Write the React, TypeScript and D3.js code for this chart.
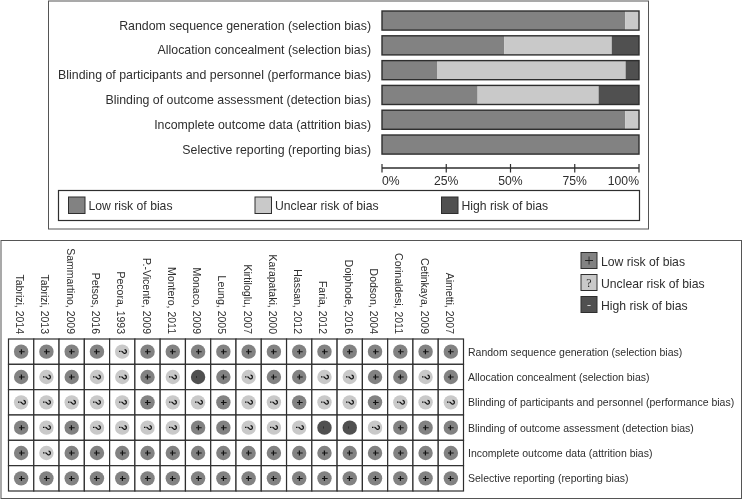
import React from 'react';
import * as d3 from 'd3';

// domains, same order in the summary bars and the table rows
const domains = [
  'Random sequence generation (selection bias)',
  'Allocation concealment (selection bias)',
  'Blinding of participants and personnel (performance bias)',
  'Blinding of outcome assessment (detection bias)',
  'Incomplete outcome data (attrition bias)',
  'Selective reporting (reporting bias)',
];

const riskKeys = ['low', 'unclear', 'high'];
const riskLabels = ['Low risk of bias', 'Unclear risk of bias', 'High risk of bias'];
const riskGlyphs = ['+', '?', '-'];

// percentages
const lowPct = [94.6, 47.6, 21.4, 37.2, 94.6, 100];
const unclearPct = [5.4, 41.8, 73.4, 47.1, 5.4, 0];
const highPct = [0, 10.6, 5.2, 15.7, 0, 0];

const pctTicks = [0, 25, 50, 75, 100];

const studies = [
  'Tabrizi, 2014', 'Tabrizi, 2013', 'Sammartino, 2009', 'Petsos, 2016', 'Pecora, 1993',
  'P.-Vicente, 2009', 'Montero, 2011', 'Monaco, 2009', 'Leung, 2005', 'Kirtiloglu, 2007',
  'Karapataki, 2000', 'Hassan, 2012', 'Faria, 2012', 'Doiphode, 2016', 'Dodson, 2004',
  'Corinaldesi, 2011', 'Cetinkaya, 2009', 'Aimetti, 2007',
];

// one string per domain, one character per study
const judgements = [
  '++++?+++++++++++++',
  '+?+??+?-+?++??++?+',
  '?????+??+??+??+???',
  '+?+????++???--?+++',
  '+?++++++++++++++++',
  '++++++++++++++++++',
];

const COLORS: Record<string, string> = { low: '#828282', unclear: '#c9c9c9', high: '#505050' };
const glyphRisk: Record<string, string> = { '+': 'low', '?': 'unclear', '-': 'high' };
const INK = '#2e2e2e';
const FONT = '"Liberation Sans", Arial, sans-serif';

const stack = d3.stack<any>().keys(riskKeys)(
  domains.map((d, i) => ({ domain: d, low: lowPct[i], unclear: unclearPct[i], high: highPct[i] })),
);

const App = () => {
  const x = d3.scaleLinear().domain([0, 100]).range([382, 639]);
  const y = d3.scaleBand().domain(domains).range([5.3, 159.8]).padding(0.23);

  const col = d3.scaleBand().domain(studies).range([8.5, 463.5]);
  const row = d3.scaleBand().domain(domains).range([339, 491]);

  return (
    <svg
      width={745}
      height={500}
      style={{ position: 'absolute', left: 0, top: 0, filter: 'blur(0.5px)' }}
      fontFamily={FONT}
    >
      <rect width={745} height={500} fill="#fff" />

      {/* ── Summary panel ── */}
      <rect x={48.5} y={1} width={600} height={228} fill="#fff" stroke="#555" />

      {domains.map((d) => (
        <text key={d} x={371} y={y(d)! + y.bandwidth() / 2 + 9} textAnchor="end" fontSize={12.35} fill={INK}>
          {d}
        </text>
      ))}

      {stack.map((s) => (
        <g key={s.key} fill={COLORS[s.key]}>
          {s.map((v, i) =>
            v[1] > v[0] ? (
              <rect key={i} x={x(v[0])} y={y(domains[i])} width={x(v[1]) - x(v[0])} height={y.bandwidth()} />
            ) : null,
          )}
        </g>
      ))}
      {domains.map((d) => (
        <rect key={d} x={x(0)} y={y(d)} width={x(100) - x(0)} height={y.bandwidth()} fill="none" stroke={INK} strokeWidth={1.4} />
      ))}

      <line x1={x(0)} x2={x(100)} y1={168} y2={168} stroke={INK} strokeWidth={1.3} />
      {pctTicks.map((t) => (
        <g key={t}>
          <line x1={x(t)} x2={x(t)} y1={164} y2={172.5} stroke={INK} strokeWidth={1.2} />
          <text
            x={x(t)}
            y={185}
            fontSize={12.2}
            fill={INK}
            textAnchor={t === 0 ? 'start' : t === 100 ? 'end' : 'middle'}
          >
            {t}%
          </text>
        </g>
      ))}

      <rect x={58.5} y={190.5} width={581} height={30} fill="#fff" stroke={INK} strokeWidth={1.2} />
      {riskKeys.map((k, i) => {
        const sx = [68.5, 255, 441.5][i];
        return (
          <g key={k}>
            <rect x={sx} y={197} width={16.5} height={16.5} fill={COLORS[k]} stroke={INK} strokeWidth={1} />
            <text x={sx + 20} y={210} fontSize={12.2} fill={INK}>
              {riskLabels[i]}
            </text>
          </g>
        );
      })}

      {/* ── Risk of bias table ── */}
      <rect x={1} y={240.5} width={740.5} height={258} fill="#fff" stroke="#555" />

      {studies.map((s) => (
        <text
          key={s}
          transform={`translate(${col(s)! + col.bandwidth() / 2 - 5},334) rotate(90)`}
          textAnchor="end"
          fontSize={10.5}
          fill={INK}
        >
          {s}
        </text>
      ))}

      {judgements.map((line, r) =>
        studies.map((s, c) => {
          const g = line[c];
          const cx = col(s)! + col.bandwidth() / 2;
          const cy = row(domains[r])! + row.bandwidth() / 2;
          return (
            <g key={s}>
              <rect x={col(s)} y={row(domains[r])} width={col.bandwidth()} height={row.bandwidth()} fill="#fff" stroke={INK} strokeWidth={1.2} />
              <circle cx={cx} cy={cy} r={7.2} fill={COLORS[glyphRisk[g]]} />
              <text
                transform={`translate(${cx},${cy}) rotate(90)`}
                textAnchor="middle"
                dy="0.35em"
                fontSize={g === '-' ? 8 : 10}
                fontWeight={g === '-' ? 400 : 700}
                fill="#111"
              >
                {g}
              </text>
            </g>
          );
        }),
      )}

      {domains.map((d) => (
        <text key={d} x={468} y={row(d)! + row.bandwidth() / 2 + 4} fontSize={10.5} fill={INK}>
          {d}
        </text>
      ))}

      {riskKeys.map((k, i) => {
        const sy = [252.5, 274.5, 296.5][i];
        return (
          <g key={k}>
            <rect x={581} y={sy} width={16} height={16} fill={COLORS[k]} stroke={INK} strokeWidth={1} />
            <text
              x={589}
              y={sy + 8}
              dy="0.35em"
              textAnchor="middle"
              fontFamily='"Liberation Serif", serif'
              fontSize={k === 'low' ? 17 : 12}
              fill={k === 'high' ? '#ddd' : '#222'}
            >
              {riskGlyphs[i]}
            </text>
            <text x={601} y={sy + 13} fontSize={12.2} fill={INK}>
              {riskLabels[i]}
            </text>
          </g>
        );
      })}
    </svg>
  );
};

export default App;
